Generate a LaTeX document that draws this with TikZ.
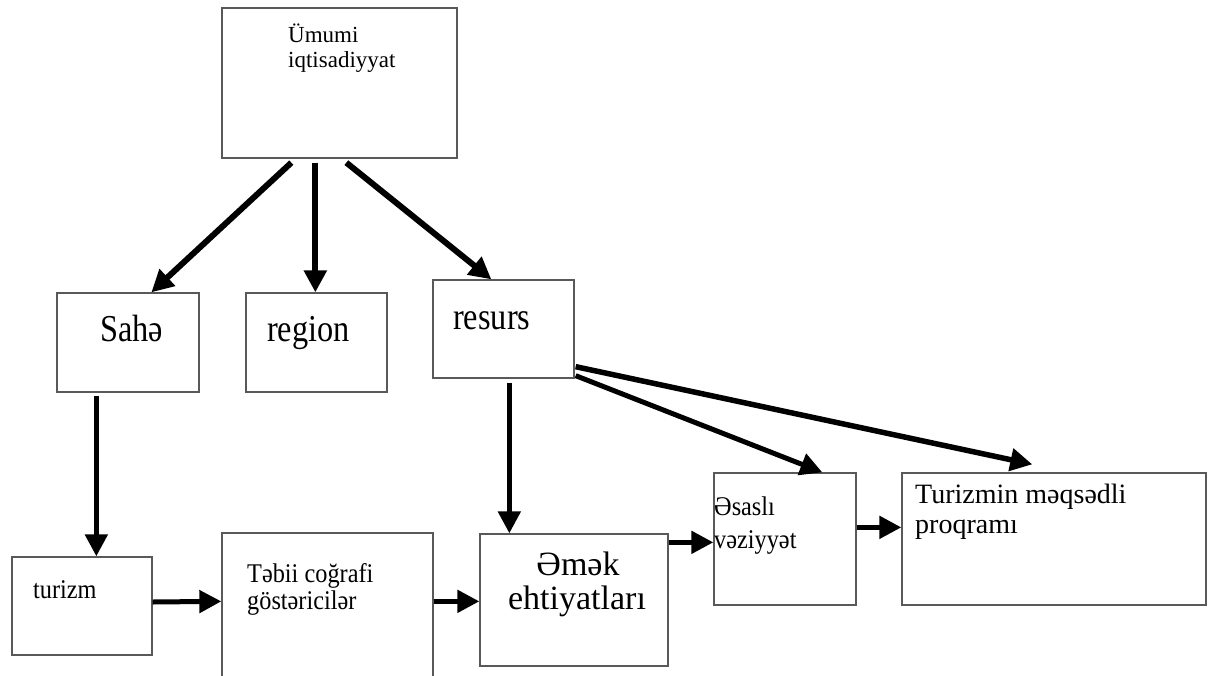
\documentclass[tikz,border=0pt]{standalone}
\usepackage{fontspec}
\setmainfont{Liberation Serif}
\newfontfamily\condserif[FakeStretch=0.9]{Liberation Serif}
\newfontfamily\narrowserif[FakeStretch=0.85]{Liberation Serif}
\usetikzlibrary{arrows.meta}
\tikzset{
  box/.style={draw=black!65, line width=1.3pt, fill=white, inner sep=0pt},
  conn/.style={line width=5pt, -{Triangle[length=22pt,width=22pt]}},
  lbl/.style={anchor=base west, inner sep=0pt},
  clbl/.style={anchor=base, inner sep=0pt},
  small/.style={font=\fontsize{23}{27}\selectfont},
  big/.style={font=\narrowserif\fontsize{38}{42}\selectfont},
  mid/.style={font=\condserif\fontsize{27}{30}\selectfont},
  med/.style={font=\condserif\fontsize{27}{30}\selectfont},
  emekf/.style={font=\fontsize{34}{38}\selectfont},
  prog/.style={font=\fontsize{28}{32}\selectfont}
}
\begin{document}
\begin{tikzpicture}[x=1pt,y=-1pt]
\useasboundingbox (0,0) rectangle (1208,675);
\clip (0,0) rectangle (1208,675);
\fill[white] (0,0) rectangle (1208,675);

% boxes
\node[box, minimum width=235pt, minimum height=150pt] (top) at (339.5,83) {};
\node[box, minimum width=142pt, minimum height=99pt] (sahe) at (128,342.5) {};
\node[box, minimum width=141pt, minimum height=99pt] (region) at (316.5,342.5) {};
\node[box, minimum width=141pt, minimum height=98pt] (resurs) at (503.5,329) {};
\node[box, minimum width=140pt, minimum height=98pt] (turizm) at (82,606) {};
\node[box, minimum width=211pt, minimum height=160pt] (tebii) at (327.5,613) {};
\node[box, minimum width=188pt, minimum height=132pt] (emek) at (574,600) {};
\node[box, minimum width=142pt, minimum height=132pt] (esasli) at (785,539) {};
\node[box, minimum width=304pt, minimum height=132pt] (tmp) at (1054,539) {};

% texts
\node[lbl, small] (t1a) at (288,42) {Ümumi};
\node[lbl, small] (t1b) at (288,67) {iqtisadiyyat};
\node[lbl, big] (t2) at (100,341) {Sahə};
\node[lbl, big] (t3) at (267,341) {region};
\node[lbl, big] (t4) at (453,329) {resurs};
\node[lbl, mid] (t5) at (33,598) {turizm};
\node[lbl, med] (t6a) at (247,582) {Təbii coğrafi};
\node[lbl, med] (t6b) at (247,609) {göstəricilər};
\node[clbl, emekf] (t7a) at (578,575) {Əmək};
\node[clbl, emekf] (t7b) at (577,609) {ehtiyatları};
\node[lbl, mid] (t8a) at (714,515) {Əsaslı};
\node[lbl, mid] (t8b) at (714,548) {vəziyyət};
\node[lbl, prog] (t9a) at (915,503) {Turizmin məqsədli};
\node[lbl, prog] (t9b) at (915,533) {proqramı};

% connectors
\draw[conn, line width=6pt] ([xshift=70pt,yshift=-4pt]top.south west) -- ([xshift=95pt]sahe.north west);
\draw[conn, line width=6pt] ([xshift=94pt,yshift=-4pt]top.south west) -- ([xshift=70pt]region.north west);
\draw[conn, line width=6pt] ([xshift=125pt,yshift=-4pt]top.south west) -- ([xshift=59pt]resurs.north west);
\draw[conn] ([xshift=40pt,yshift=-3pt]sahe.south west) -- ([xshift=85pt]turizm.north west);
\draw[conn] ([xshift=77pt,yshift=-4pt]resurs.south west) -- ([xshift=30pt]emek.north west);
\draw[conn] ([xshift=1pt,yshift=3pt]resurs.south east) -- ([xshift=109pt]esasli.north west);
\draw[conn, line width=5.5pt] ([xshift=1pt,yshift=12pt]resurs.south east) -- ([xshift=131pt,yshift=8pt]tmp.north west);
\draw[conn] ([yshift=4pt]turizm.east) -- ([yshift=-69pt]tebii.north west);
\draw[conn] ([yshift=-69pt]tebii.north east) -- ([yshift=-68pt]emek.north west);
\draw[conn] ([yshift=-9pt]emek.north east) -- ([yshift=-70pt]esasli.north west);
\draw[conn] ([yshift=-55pt]esasli.north east) -- ([yshift=-55pt]tmp.north west);
\end{tikzpicture}
\end{document}
